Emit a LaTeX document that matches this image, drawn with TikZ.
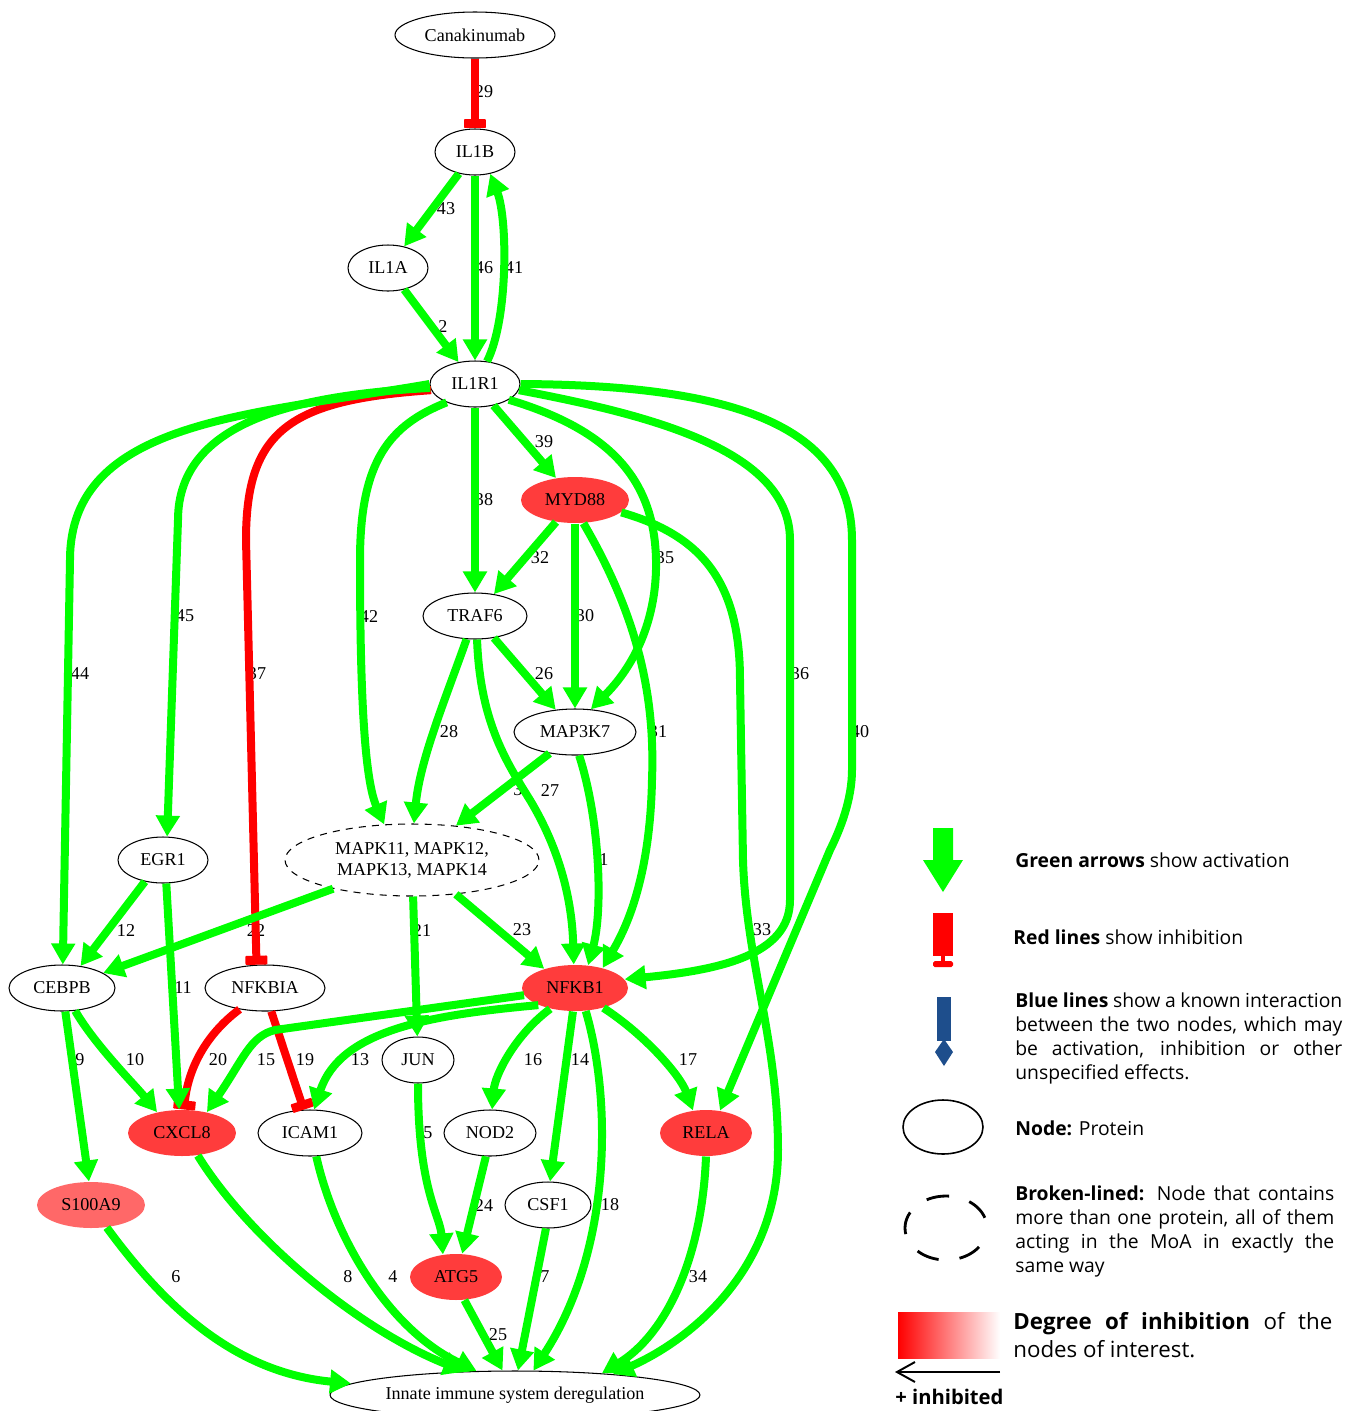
\documentclass[tikz,border=0pt]{standalone}
\usepackage{fontspec}
\setmainfont{Liberation Serif}
\newfontfamily\legfont{Open Sans}
\usetikzlibrary{shapes.geometric, arrows.meta, positioning}
\hyphenpenalty=10000
\exhyphenpenalty=10000
\definecolor{actgreen}{RGB}{0,255,0}
\definecolor{inhred}{RGB}{255,0,0}
\definecolor{hitred}{RGB}{255,60,60}
\definecolor{midred}{RGB}{255,104,104}
\definecolor{knownblue}{RGB}{30,78,140}
\tikzset{
  prot/.style={ellipse, draw=black, line width=0.6pt, inner sep=0pt, minimum height=0.92cm, align=center, font=\fontsize{10.3}{12}\selectfont},
  hit/.style={prot, draw=none, fill=hitred},
  act/.style={draw=actgreen, line width=0.16cm, -{Triangle[length=0.42cm,width=0.46cm]}},
  inh/.style={draw=inhred, line width=0.16cm, -{Rectangle[length=0.18cm,width=0.44cm,line width=1pt,round]}},
  elab/.style={inner sep=0pt, font=\fontsize{10.3}{12}\selectfont},
  legtext/.style={anchor=west, inner sep=0pt, font=\legfont\fontsize{11}{13.66}\selectfont}
}

\begin{document}
\begin{tikzpicture}[x=0.02cm, y=-0.02cm]
  \useasboundingbox (0,0) rectangle (1360,1411);

  % Nodes (absolute, graphviz layout)
  \node[prot, minimum width=3.2cm]  (cana)   at (475,35)   {Canakinumab};
  \node[prot, minimum width=1.6cm]  (il1b)   at (475,152)  {IL1B};
  \node[prot, minimum width=1.6cm]  (il1a)   at (388,268)  {IL1A};
  \node[prot, minimum width=1.8cm]  (il1r1)  at (475,384)  {IL1R1};
  \node[hit,  minimum width=2.16cm] (myd88)  at (575,500)  {MYD88};
  \node[prot, minimum width=2.08cm] (traf6)  at (475,616)  {TRAF6};
  \node[prot, minimum width=2.44cm] (map3k7) at (575,732)  {MAP3K7};
  \node[prot, dash pattern=on 4pt off 3.5pt, minimum width=5.08cm, minimum height=1.44cm] (mapk) at (412,860) {MAPK11, MAPK12,\\ MAPK13, MAPK14};
  \node[prot, minimum width=1.8cm]  (egr1)   at (163,860)  {EGR1};
  \node[prot, minimum width=2.12cm] (cebpb)  at (62,988)   {CEBPB};
  \node[prot, minimum width=2.4cm]  (nfkbia) at (265,988)  {NFKBIA};
  \node[hit,  minimum width=2.12cm] (nfkb1)  at (575,988)  {NFKB1};
  \node[prot, minimum width=1.44cm] (jun)    at (418,1060) {JUN};
  \node[hit,  minimum width=2.16cm] (cxcl8)  at (182,1133) {CXCL8};
  \node[prot, minimum width=2.08cm] (icam1)  at (310,1133) {ICAM1};
  \node[prot, minimum width=1.84cm] (nod2)   at (490,1133) {NOD2};
  \node[hit,  minimum width=1.84cm] (rela)   at (706,1133) {RELA};
  \node[hit,  fill=midred, minimum width=2.16cm] (s100a9) at (91,1205) {S100A9};
  \node[prot, minimum width=1.72cm] (csf1)   at (548,1205) {CSF1};
  \node[hit,  minimum width=1.84cm] (atg5)   at (456,1277) {ATG5};
  \node[prot, minimum width=7.4cm, minimum height=0.96cm] (innate) at (515,1395) {Innate immune system deregulation};

  % Edge numbers (under the edges)
  \foreach \n/\x/\y in {29/484/92, 43/446/209, 46/484/268, 41/514/268, 2/443/326,
      39/544/442, 38/484/500, 32/540/558, 35/665/558, 45/185/616, 42/369/616,
      30/585/616, 44/80/674, 37/257/674, 26/544/674, 36/800/674, 28/449/732,
      31/658/732, 40/860/732, 3/518/790, 27/550/790, 1/604/860, 12/126/930,
      22/256/930, 21/422/930, 23/522/930, 33/762/930, 11/183/988, 9/80/1060,
      10/135/1060, 20/218/1060, 15/266/1060, 19/305/1060, 13/360/1060, 16/533/1060,
      14/580/1060, 17/688/1060, 5/428/1133, 24/484/1205, 18/610/1205, 6/176/1277,
      8/348/1277, 4/393/1277, 7/545/1277, 34/698/1277, 25/498/1335}
    \node[elab] (lab\n) at (\x,\y) {\n};

  % Inhibitions
  \draw[inh] (cana) -- (il1b);
  \draw[inh] (il1r1.188) .. controls (290,400) and (246,430) .. (246,540) -- (nfkbia.110);
  \draw[inh] (nfkbia.-140) .. controls (205,1035) and (188,1070) .. (cxcl8.85);
  \draw[inh] (nfkbia.-75) -- (icam1.105);

  % Activations
  \draw[act] (il1b) -- (il1a);
  \draw[act] (il1b) -- (il1r1);
  \draw[act] (il1r1.62) .. controls (508,320) and (508,220) .. (il1b.-55);
  \draw[act] (il1a) -- (il1r1);
  \draw[act] (il1r1.180) .. controls (250,415) and (70,420) .. (70,560) -- (cebpb.88);
  \draw[act] (il1r1.185) .. controls (300,395) and (178,420) .. (178,520) -- (egr1.80);
  \draw[act] (il1r1.213) .. controls (390,425) and (360,460) .. (360,560) .. controls (360,700) and (365,780) .. (mapk.128);
  \draw[act] (il1r1) -- (traf6);
  \draw[act] (il1r1) -- (myd88);
  \draw[act] (il1r1.-25) .. controls (610,430) and (658,480) .. (656,570) .. controls (654,640) and (620,680) .. (map3k7.55);
  \draw[act] (il1r1.-8) .. controls (650,415) and (790,450) .. (790,540) -- (790,900) .. controls (790,955) and (720,970) .. (nfkb1.10);
  \draw[act] (il1r1.east) .. controls (720,385) and (852,420) .. (852,540) -- (852,770) .. controls (852,800) and (840,830) .. (830,850) -- (rela.58);
  \draw[act] (myd88) -- (traf6);
  \draw[act] (myd88) -- (map3k7);
  \draw[act] (myd88.-70) .. controls (640,620) and (655,700) .. (652,780) .. controls (650,880) and (625,930) .. (nfkb1.36);
  \draw[act] (myd88.-15) .. controls (700,535) and (740,580) .. (740,680) -- (743,860) .. controls (746,960) and (778,1040) .. (778,1150) .. controls (778,1270) and (690,1340) .. (innate.12);
  \draw[act] (traf6) -- (map3k7);
  \draw[act] (traf6.-110) .. controls (445,700) and (420,760) .. (mapk.87);
  \draw[act] (traf6.-85) .. controls (480,720) and (505,760) .. (530,800) .. controls (560,850) and (572,900) .. (nfkb1.93);
  \draw[act] (map3k7.220) -- (mapk.38);
  \draw[act] (map3k7.-80) .. controls (600,820) and (603,910) .. (nfkb1.60);
  \draw[act] (mapk.200) -- (cebpb.20);
  \draw[act] (mapk) -- (jun);
  \draw[act] (mapk.-38) -- (nfkb1.148);
  \draw[act] (egr1.230) -- (cebpb.50);
  \draw[act] (egr1.-82) -- (cxcl8.97);
  \draw[act] (cebpb.-82) -- (s100a9.95);
  \draw[act] (cebpb.-60) .. controls (95,1045) and (135,1085) .. (cxcl8.140);
  \draw[act] (nfkb1.188) -- (275,1030) .. controls (250,1036) and (243,1060) .. (cxcl8.40);
  \draw[act] (nfkb1.205) .. controls (430,1015) and (340,1030) .. (icam1.80);
  \draw[act] (nfkb1.-140) .. controls (515,1035) and (495,1075) .. (nod2.85);
  \draw[act] (nfkb1.-95) -- (csf1.85);
  \draw[act] (nfkb1.-35) .. controls (645,1035) and (680,1075) .. (rela.120);
  \draw[act] (nfkb1.-65) .. controls (612,1100) and (612,1250) .. (innate.53);
  \draw[act] (jun) .. controls (418,1190) and (440,1215) .. (atg5.120);
  \draw[act] (nod2.-100) -- (atg5.75);
  \draw[act] (cxcl8.-55) .. controls (250,1240) and (360,1330) .. (innate.155);
  \draw[act] (icam1.-75) .. controls (335,1240) and (390,1330) .. (innate.148);
  \draw[act] (s100a9.-55) .. controls (160,1300) and (230,1372) .. (innate.176);
  \draw[act] (atg5.-70) -- (innate.117);
  \draw[act] (csf1.-95) -- (innate.83);
  \draw[act] (rela.-90) .. controls (702,1260) and (665,1335) .. (innate.14);

  % Legend
  \fill[actgreen] (933,828) -- (953,828) -- (953,860) -- (963,860) -- (943,892) -- (923,860) -- (933,860) -- cycle;
  \node[legtext] (legact) at (1015,860) {\textbf{Green arrows} show activation};
  \fill[inhred] (933,913) rectangle (953,956);
  \fill[inhred] (941,955) rectangle (945,962);
  \fill[inhred, rounded corners=1pt] (933,961) rectangle (953,967);
  \node[legtext] (leginh) at (1013,937) {\textbf{Red lines} show inhibition};
  \fill[knownblue] (937,997) rectangle (951,1041);
  \fill[knownblue] (944,1039) -- (953,1052) -- (944,1066) -- (935,1052) -- cycle;
  \node[legtext, text width=6.54cm, align=justify] (legknown) at (1015,1038)
    {\textbf{Blue lines} show a known interaction between the two nodes, which may be activation, inhibition or other unspecified effects.};
  \draw[line width=0.9pt] (943,1127) ellipse [x radius=0.8cm, y radius=0.54cm];
  \node[legtext] (legprot) at (1015,1128) {\textbf{Node:} Protein};
  \draw[line width=1.6pt, dash pattern=on 13pt off 12pt, dash phase=-6pt] (946,1228) ellipse [x radius=0.82cm, y radius=0.64cm];
  \node[legtext, text width=6.38cm, align=justify] (legbroken) at (1015,1231)
    {\textbf{Broken-lined:} Node that contains more than one protein, all of them acting in the MoA in exactly the same way};
  \shade[left color=inhred, right color=white] (898,1312) rectangle (1000,1358);
  \coordinate (grR) at (1000,1372);
  \coordinate (grL) at (895,1372);
  \draw[line width=1.1pt, -{Straight Barb[length=0.36cm,width=0.4cm]}] (grR) -- (grL);
  \node[legtext, font=\legfont\bfseries\fontsize{11.5}{13}\selectfont] (legmore) at (895,1397) {+ inhibited};
  \node[legtext, text width=6.38cm, align=justify, font=\legfont\fontsize{12.7}{15.9}\selectfont] (legdeg) at (1013,1335)
    {\textbf{Degree of inhibition} of the nodes of interest.};
\end{tikzpicture}
\end{document}
